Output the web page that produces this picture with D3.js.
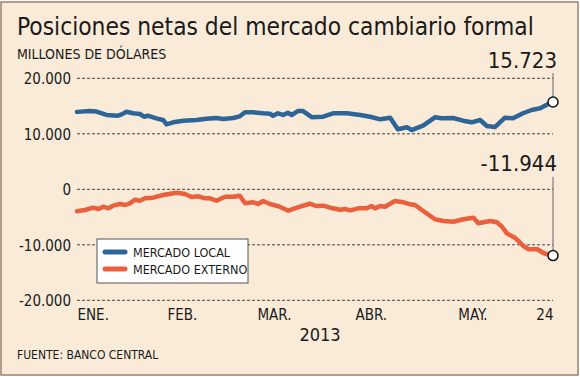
<!DOCTYPE html>
<html>
<head>
<meta charset="utf-8">
<script src="https://cdn.jsdelivr.net/npm/d3@7"></script>
<style>
  body { margin: 0; background: #fff; }
  svg { display: block; }
  text { font-family: "DejaVu Sans Condensed", "Liberation Sans Narrow", "DejaVu Sans", sans-serif; fill: #1a1a1a; }
  .axis path, .axis line { display: none; }
</style>
</head>
<body>
<script>
var fullWidth = 580;
var fullHeight = 377;

// position along the period: 0 = start of January, 100 = May 24
var localDays = [0, 2.7, 4.1, 6.2, 8.6, 9.4, 10.4, 11.8, 13.2, 14.1, 14.9, 16.0, 17.4, 18.1, 18.8, 20.2,
    22.3, 25.1, 27.2, 29.3, 30.7, 32.8, 34.2, 35.3, 37.0, 39.1, 40.5, 41.2, 42.2, 43.3, 44.3, 45.1,
    46.4, 47.5, 49.3, 51.7, 53.8, 56.7, 59.5, 61.6, 63.7, 65.8, 67.4, 69.3, 70.3, 72.7, 75.2, 76.6,
    79.0, 81.1, 82.9, 84.7, 86.1, 87.8, 89.9, 91.6, 93.7, 95.5, 97.3, 99.7, 100];
var localValues = [13950, 14100, 14000, 13390, 13260, 13500, 13980, 13700, 13570, 13080, 13260, 12970, 12610, 12490, 11710, 12070,
    12360, 12490, 12720, 12850, 12670, 12850, 13150, 13870, 13870, 13700, 13620, 13260, 13700, 13390, 13800, 13390,
    14100, 14100, 13000, 13080, 13700, 13700, 13390, 13080, 12610, 12900, 10810, 11170, 10680, 11460, 12970, 12790,
    12850, 12360, 12070, 12490, 11400, 11220, 12900, 12790, 13700, 14290, 14590, 15680, 15723];

var externalDays = [0, 1.7, 3.4, 4.5, 5.5, 6.6, 7.6, 9.0, 10.1, 11.1, 12.2, 13.2, 14.3, 16.0, 18.1, 20.9,
    22.7, 24.1, 25.5, 26.9, 27.9, 29.3, 31.1, 32.8, 34.2, 35.3, 37.0, 38.1, 39.1, 40.5, 42.6, 44.4,
    46.2, 48.9, 50.3, 51.7, 53.2, 55.3, 56.3, 57.4, 59.1, 60.9, 61.9, 62.6, 63.7, 64.7, 66.8, 68.6,
    70.0, 71.0, 73.1, 75.2, 77.0, 79.1, 81.2, 83.3, 84.3, 85.4, 86.8, 88.2, 89.3, 90.3, 92.0, 93.8,
    94.9, 96.7, 98.1, 99.4, 100];
var externalValues = [-3950, -3730, -3310, -3550, -3130, -3430, -2950, -2650, -2830, -2520, -1870, -2050, -1620, -1510, -1030, -610,
    -850, -1390, -1260, -1620, -1620, -2050, -1330, -1330, -1150, -2520, -2340, -2650, -2110, -2650, -3130, -3850,
    -3310, -2600, -3010, -2950, -3310, -3670, -3550, -3790, -3430, -3430, -3010, -3430, -3010, -3130, -2110, -2340,
    -2700, -2830, -4140, -5400, -5710, -5840, -5400, -5110, -6130, -5950, -5710, -5950, -6740, -7930, -8720, -10220,
    -10810, -10810, -11530, -11840, -11944];

var seriesNames = ["MERCADO LOCAL", "MERCADO EXTERNO"];
var seriesColors = ["#2e6599", "#ea5f3c"];

var yTicks = [20000, 10000, 0, -10000, -20000];
var monthLabels = ["ENE.", "FEB.", "MAR.", "ABR.", "MAY.", "24"];
var monthDays = [0, 18.9, 37.8, 58.4, 80, 100];

var locale = d3.formatLocale({decimal: ",", thousands: ".", grouping: [3], currency: ["$", ""], minus: "-"});
var fmt = locale.format(",.0f");

var svg = d3.select("body").append("svg")
    .attr("width", fullWidth)
    .attr("height", fullHeight);

// panel
svg.append("rect")
   .attr("x", 1).attr("y", 2)
   .attr("width", 577).attr("height", 373)
   .attr("fill", "#f9ebd8")
   .attr("stroke", "#9c7f6e")
   .attr("stroke-width", 1.5);

svg.append("text")
   .attr("x", 17).attr("y", 35)
   .style("font-size", "24.3px")
   .text("Posiciones netas del mercado cambiario formal");

svg.append("text")
   .attr("x", 17).attr("y", 59)
   .style("font-size", "14px")
   .text("MILLONES DE DÓLARES");

var xScale = d3.scaleLinear().domain([0, 100]).range([77, 553]);
var yScale = d3.scaleLinear().domain([-20000, 20000]).range([300.3, 78.3]);

// grid
svg.selectAll(".grid")
   .data(yTicks)
   .enter()
   .append("line")
   .attr("class", "grid")
   .attr("x1", xScale(0)).attr("x2", xScale(100))
   .attr("y1", function(d) { return yScale(d); })
   .attr("y2", function(d) { return yScale(d); })
   .attr("stroke", "#444")
   .attr("stroke-width", 1)
   .attr("stroke-dasharray", "3,2");

var yAxis = d3.axisLeft(yScale).tickValues(yTicks).tickFormat(fmt).tickSize(0).tickPadding(6);
svg.append("g")
   .attr("class", "axis")
   .attr("transform", "translate(" + xScale(0) + ",0)")
   .call(yAxis)
   .selectAll("text")
   .style("font-size", "15px")
   .attr("dy", "0.36em");

var xAxis = d3.axisBottom(xScale).tickValues(monthDays)
    .tickFormat(function(d, i) { return monthLabels[i]; }).tickSize(0).tickPadding(0);
svg.append("g")
   .attr("class", "axis")
   .attr("transform", "translate(0," + yScale(-20000) + ")")
   .call(xAxis)
   .selectAll("text")
   .attr("y", 20)
   .attr("dy", 0)
   .style("font-size", "15px")
   .style("text-anchor", function(d, i) { return i == monthLabels.length - 1 ? "end" : "start"; });

svg.append("text")
   .attr("x", 320).attr("y", 341)
   .style("text-anchor", "middle")
   .style("font-size", "18px")
   .text("2013");

svg.append("text")
   .attr("x", 17).attr("y", 359)
   .style("font-size", "12px")
   .text("FUENTE: BANCO CENTRAL");

var series = [
    {days: localDays, values: localValues},
    {days: externalDays, values: externalValues}
];

var line = d3.line()
    .x(function(d) { return xScale(d[0]); })
    .y(function(d) { return yScale(d[1]); });

series.forEach(function(s, k) {
    var pts = d3.zip(s.days, s.values);
    svg.append("path")
       .datum(pts)
       .attr("d", line)
       .attr("fill", "none")
       .attr("stroke", seriesColors[k])
       .attr("stroke-width", 4.5)
       .attr("stroke-linejoin", "round")
       .attr("stroke-linecap", "round");
});

// end labels and markers
var lastLocal = localValues[localValues.length - 1];
var lastExternal = externalValues[externalValues.length - 1];
var endX = xScale(100);

svg.append("line")
   .attr("x1", endX).attr("x2", endX)
   .attr("y1", 73).attr("y2", yScale(lastLocal))
   .attr("stroke", "#666").attr("stroke-width", 1);
svg.append("line")
   .attr("x1", endX).attr("x2", endX)
   .attr("y1", 177).attr("y2", yScale(lastExternal))
   .attr("stroke", "#666").attr("stroke-width", 1);

svg.append("text")
   .attr("x", 557).attr("y", 68)
   .style("text-anchor", "end")
   .style("font-size", "22px")
   .text(fmt(lastLocal));
svg.append("text")
   .attr("x", 557).attr("y", 171)
   .style("text-anchor", "end")
   .style("font-size", "22px")
   .text(fmt(lastExternal));

svg.selectAll(".endpoint")
   .data([lastLocal, lastExternal])
   .enter()
   .append("circle")
   .attr("class", "endpoint")
   .attr("cx", endX)
   .attr("cy", function(d) { return yScale(d); })
   .attr("r", 5)
   .attr("fill", "#fff")
   .attr("stroke", "#111")
   .attr("stroke-width", 1.5);

// legend
var legend = svg.append("g").attr("transform", "translate(97,239)");
legend.append("rect")
      .attr("width", 151).attr("height", 44)
      .attr("fill", "#fff")
      .attr("stroke", "#555")
      .attr("stroke-width", 1);
var items = legend.selectAll(".legend")
    .data(seriesNames)
    .enter()
    .append("g")
    .attr("class", "legend")
    .attr("transform", function(d, i) { return "translate(0," + (13 + i * 17) + ")"; });
items.append("line")
     .attr("x1", 8).attr("x2", 28)
     .attr("stroke", function(d, i) { return seriesColors[i]; })
     .attr("stroke-width", 5)
     .attr("stroke-linecap", "round");
items.append("text")
     .attr("x", 36).attr("y", 5)
     .style("font-size", "12.5px")
     .text(function(d) { return d; });
</script>
</body>
</html>
